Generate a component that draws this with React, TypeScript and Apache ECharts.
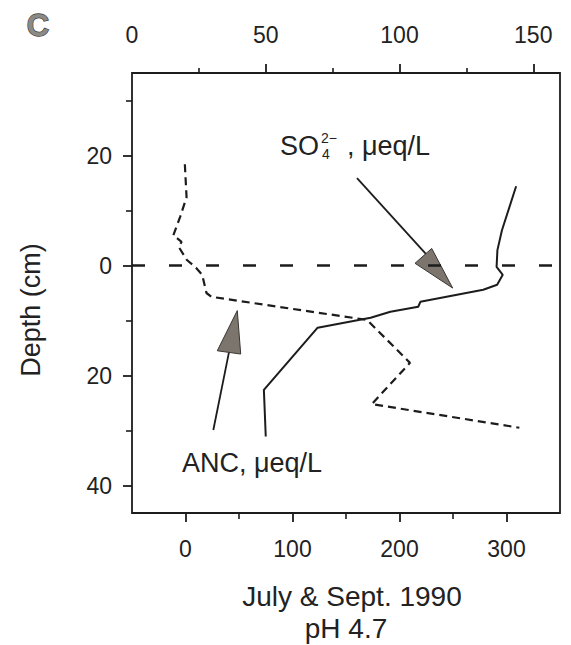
import React, { useEffect, useRef } from "react";
import * as echarts from "echarts";

// ---- data ----
// SO4 profile (top axis, µeq/L) vs depth (cm, positive = above surface)
const so4Depth = [14.4, 6.4, 2.8, -0.25, -1.7, -3.5, -4.4, -6.6, -7.5, -8.4, -9.5, -11.3, -22.6, -31.1];
const so4Values = [143.6, 138.3, 136.6, 136.3, 138.6, 136.5, 131.3, 107.8, 107.0, 96.6, 89.2, 69.4, 49.3, 50.0];
// ANC profile (bottom axis, µeq/L)
const ancDepth = [18.4, 12.4, 8.8, 5.5, 4.3, 3.4, 1.0, -0.4, -1.7, -5.0, -5.7, -9.9, -17.7, -25.2, -29.5];
const ancValues = [-0.6, 1.0, -5.1, -11.4, -3.7, -6.4, 1.3, 9.8, 15.6, 19.6, 24.4, 169.7, 209.8, 174.1, 312.0];

// axes
const ancMajorTicks = [0, 100, 200, 300];
const ancMinorTicks = [50, 150, 250];
const so4LabelValues = [0, 50, 100, 150];
const so4MajorTicks = [50, 100, 150];
const so4MinorTicks = [25, 75, 125];
const depthMajorTicks = [-40, -20, 0, 20];
const depthMinorTicks = [-30, -10, 10, 30];

// annotation arrows in (ANC, depth) coordinates:
// shaft start, shaft end (base middle), tip, base corner 1, base corner 2
const arrowSO4 = [160.3, 15.9, 225.7, 1.9, 249.7, -4.1, 230.1, 3.1, 214.5, 0.4];
const arrowANC = [26.0, -29.9, 40.7, -15.7, 48.4, -8.2, 29.7, -15.5, 51.6, -16.1];

const FONT = "'Liberation Sans', Arial, Helvetica, sans-serif";
const INK = "#1c1c1c";

export default function App() {
  const ref = useRef<HTMLDivElement>(null);

  useEffect(() => {
    document.body.style.margin = "0";
    const chart = echarts.init(ref.current!, null, { renderer: "svg" });

    const tickLabel = { fontFamily: FONT, fontSize: 23, color: "#222" };
    const noLine = { show: false, onZero: false };

    const option: any = {
      animation: false,
      backgroundColor: "#ffffff",
      grid: {
        left: 132,
        right: 11,
        top: 73,
        bottom: 132,
        show: true,
        borderColor: INK,
        borderWidth: 1.8,
        backgroundColor: "transparent",
      },
      xAxis: [
        {
          type: "value",
          position: "bottom",
          min: -50,
          max: 350,
          splitLine: { show: false },
          axisLine: noLine,
          axisTick: {
            show: true,
            inside: false,
            length: 9,
            customValues: ancMajorTicks,
            lineStyle: { color: INK, width: 1.8 },
          },
          axisLabel: { ...tickLabel, margin: 24, customValues: ancMajorTicks },
        },
        {
          type: "value",
          position: "bottom",
          min: -50,
          max: 350,
          splitLine: { show: false },
          axisLine: noLine,
          axisTick: {
            show: true,
            length: 6,
            customValues: ancMinorTicks,
            lineStyle: { color: INK, width: 1.6 },
          },
          axisLabel: { show: false },
        },
        {
          type: "value",
          position: "top",
          min: 0,
          max: 160,
          splitLine: { show: false },
          axisLine: noLine,
          axisTick: {
            show: true,
            length: 9,
            customValues: so4MajorTicks,
            lineStyle: { color: INK, width: 1.8 },
          },
          axisLabel: { ...tickLabel, margin: 27, customValues: so4LabelValues },
        },
        {
          type: "value",
          position: "top",
          min: 0,
          max: 160,
          splitLine: { show: false },
          axisLine: noLine,
          axisTick: {
            show: true,
            length: 5,
            customValues: so4MinorTicks,
            lineStyle: { color: INK, width: 1.6 },
          },
          axisLabel: { show: false },
        },
      ],
      yAxis: [
        {
          type: "value",
          position: "left",
          min: -45,
          max: 35,
          splitLine: { show: false },
          axisLine: noLine,
          axisTick: {
            show: true,
            length: 9,
            customValues: depthMajorTicks,
            lineStyle: { color: INK, width: 1.8 },
          },
          axisLabel: {
            ...tickLabel,
            margin: 20,
            customValues: depthMajorTicks,
            formatter: (v: number) => String(Math.abs(v)),
          },
        },
        {
          type: "value",
          position: "left",
          min: -45,
          max: 35,
          splitLine: { show: false },
          axisLine: noLine,
          axisTick: {
            show: true,
            length: 6,
            customValues: depthMinorTicks,
            lineStyle: { color: INK, width: 1.6 },
          },
          axisLabel: { show: false },
        },
      ],
      series: [
        {
          name: "SO4",
          type: "line",
          xAxisIndex: 2,
          yAxisIndex: 0,
          data: so4Values.map((v, i) => [v, so4Depth[i]]),
          showSymbol: false,
          symbol: "none",
          lineStyle: { color: INK, width: 2 },
          silent: true,
        },
        {
          name: "ANC",
          type: "line",
          xAxisIndex: 0,
          yAxisIndex: 0,
          data: ancValues.map((v, i) => [v, ancDepth[i]]),
          showSymbol: false,
          symbol: "none",
          lineStyle: { color: INK, width: 2.2, type: [8, 5] },
          silent: true,
          markLine: {
            silent: true,
            symbol: "none",
            label: { show: false },
            lineStyle: { color: INK, width: 2.6, type: [13, 24] },
            data: [{ yAxis: 0 }],
          },
        },
        {
          name: "arrows",
          type: "custom",
          xAxisIndex: 0,
          yAxisIndex: 0,
          silent: true,
          encode: { x: [0, 2, 4, 6, 8], y: [1, 3, 5, 7, 9] },
          data: [arrowSO4, arrowANC],
          renderItem: (params: any, api: any) => {
            const p = (i: number) => api.coord([api.value(i), api.value(i + 1)]);
            const s0 = p(0);
            const bm = p(2);
            const tip = p(4);
            const c1 = p(6);
            const c2 = p(8);
            return {
              type: "group",
              children: [
                {
                  type: "line",
                  shape: { x1: s0[0], y1: s0[1], x2: bm[0], y2: bm[1] },
                  style: { stroke: INK, lineWidth: 1.8 },
                },
                {
                  type: "polygon",
                  shape: { points: [tip, c1, c2] },
                  style: { fill: "#7c756e", stroke: "#3a3633", lineWidth: 1 },
                },
              ],
            };
          },
        },
      ],
      graphic: [
        {
          type: "text",
          left: 26,
          top: 9,
          style: {
            text: "C",
            font: `bold 31px ${FONT}`,
            fill: "#8c8a86",
            stroke: "#3c3a38",
            lineWidth: 1.3,
          },
        },
        {
          type: "text",
          x: 31,
          y: 310,
          rotation: Math.PI / 2,
          style: {
            text: "Depth (cm)",
            font: `27px ${FONT}`,
            fill: "#222",
            textAlign: "center",
            textVerticalAlign: "middle",
          },
        },
        {
          type: "text",
          x: 280,
          y: 146,
          style: {
            text: "SO",
            font: `27px ${FONT}`,
            fill: "#222",
            textAlign: "left",
            textVerticalAlign: "middle",
          },
        },
        {
          type: "text",
          x: 321,
          y: 138,
          style: {
            text: "2−",
            font: `14px ${FONT}`,
            fill: "#222",
            textAlign: "left",
            textVerticalAlign: "middle",
          },
        },
        {
          type: "text",
          x: 322,
          y: 154,
          style: {
            text: "4",
            font: `14px ${FONT}`,
            fill: "#222",
            textAlign: "left",
            textVerticalAlign: "middle",
          },
        },
        {
          type: "text",
          x: 347,
          y: 146,
          style: {
            text: ", μeq/L",
            font: `27px ${FONT}`,
            fill: "#222",
            textAlign: "left",
            textVerticalAlign: "middle",
          },
        },
        {
          type: "text",
          x: 182,
          y: 463,
          style: {
            text: "ANC, μeq/L",
            font: `27px ${FONT}`,
            fill: "#222",
            textAlign: "left",
            textVerticalAlign: "middle",
          },
        },
        {
          type: "text",
          x: 352,
          y: 596,
          style: {
            text: "July & Sept. 1990",
            font: `28px ${FONT}`,
            fill: "#222",
            textAlign: "center",
            textVerticalAlign: "middle",
          },
        },
        {
          type: "text",
          x: 346,
          y: 628,
          style: {
            text: "pH 4.7",
            font: `28px ${FONT}`,
            fill: "#222",
            textAlign: "center",
            textVerticalAlign: "middle",
          },
        },
      ],
    };

    chart.setOption(option);
    return () => chart.dispose();
  }, []);

  return <div ref={ref} style={{ width: 571, height: 645 }} />;
}
